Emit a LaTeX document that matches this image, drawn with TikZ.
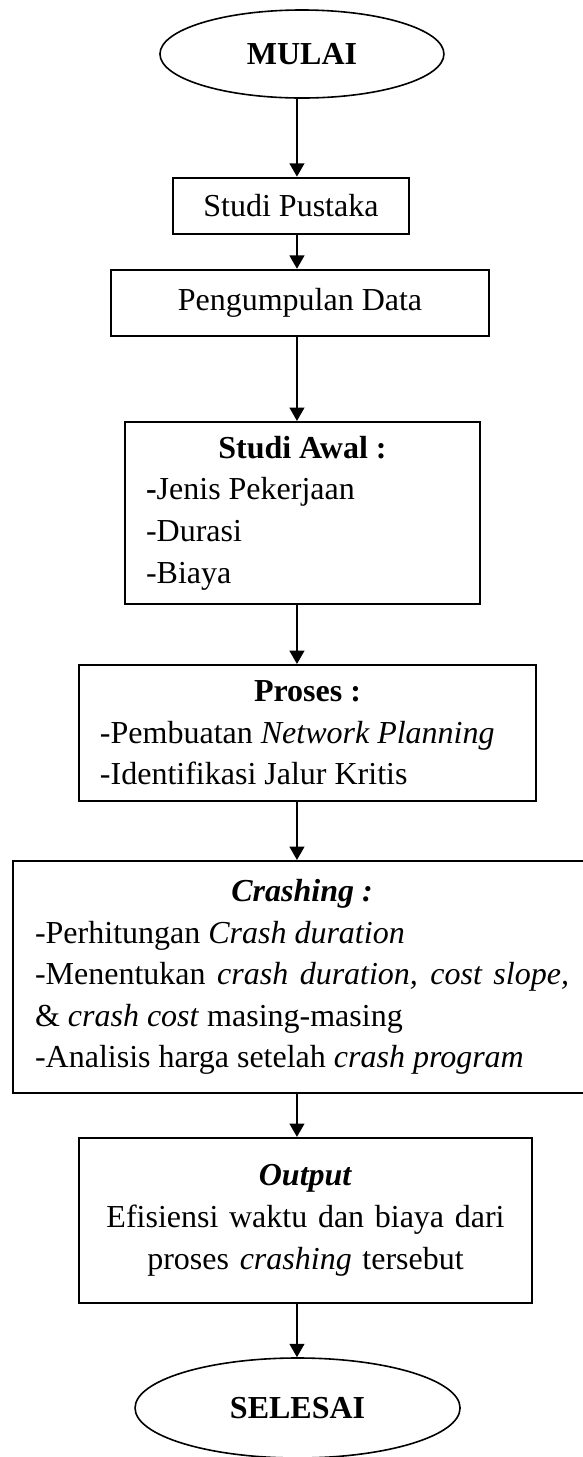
\documentclass[tikz,border=0pt]{standalone}
\usepackage{fontspec}
\setmainfont{Liberation Serif}
\usepackage{tikz}
\usetikzlibrary{shapes.geometric,arrows.meta}
\setlength{\parindent}{0pt}
\tikzstyle{terminal} = [ellipse, text centered, draw=black, line width=0.6pt, inner sep=0pt, font=\fontsize{12}{14}\selectfont\bfseries]
\tikzstyle{process} = [rectangle, text centered, draw=black, line width=0.8pt, font=\fontsize{12}{14}\selectfont]
\tikzstyle{listbox} = [rectangle, align=justify, draw=black, line width=0.8pt, inner ysep=0pt, font=\fontsize{12}{15.6}\selectfont]
\tikzstyle{arrow} = [line width=0.8pt,->,>={Triangle[width=5.5pt,length=5pt]}]

\begin{document}
\begin{tikzpicture}[node distance=1cm]

\useasboundingbox (0,0) rectangle (7.671,-19.204);
\coordinate (spine) at (3.914,0);

\node (mulai) [terminal, minimum width=3.743cm, minimum height=1.160cm] at (3.980,-0.712) {MULAI};

\node (pustaka) [process, below of=mulai, xshift=-0.145cm, yshift=-1.00cm, minimum width=3.110cm, minimum height=0.738cm] {Studi Pustaka};

\node (data) [process, below of=pustaka, xshift=0.119cm, yshift=-0.28cm, minimum width=4.982cm, minimum height=0.870cm] {Pengumpulan Data};

\node (awal) [listbox, below of=data, xshift=0.033cm, yshift=-1.77cm, text width=4.124cm, inner xsep=0.277cm, minimum height=2.399cm] {{\centering\textbf{Studi Awal :}\par}\textbf{-}Jenis Pekerjaan\par -Durasi\par -Biaya};

\node (proses) [listbox, below of=awal, xshift=0.066cm, yshift=-1.90cm, text width=5.47cm, inner xsep=0.277cm, minimum height=1.792cm] {{\centering\textbf{Proses :}\par}-Pembuatan \textit{Network Planning}\par -Identifikasi Jalur Kritis};

\node (crashing) [listbox, below of=proses, xshift=-0.072cm, yshift=-2.216cm, text width=7.038cm, inner xsep=0.29cm, minimum height=3.058cm] {{\centering\textbf{\textit{Crashing :}}\par}-Perhitungan \textit{Crash duration}\par -Menentukan \textit{crash duration, cost slope,}\linebreak \& \textit{crash cost} masing-masing\par -Analisis harga setelah \textit{crash program}};

\node (output) [process, below of=crashing, xshift=0.046cm, yshift=-2.209cm, align=center, text width=5.4cm, minimum width=5.971cm, minimum height=2.176cm, font=\fontsize{12}{15.8}\selectfont] {\textbf{\textit{Output}}\\ Efisiensi waktu dan biaya dari\\ proses \textit{crashing} tersebut};

\node (selesai) [terminal, below of=output, xshift=-0.105cm, yshift=-1.471cm, minimum width=4.284cm, minimum height=1.318cm] {SELESAI};

\draw [arrow] (mulai.south -| spine) -- (pustaka.north -| spine);
\draw [arrow] (pustaka.south -| spine) -- (data.north -| spine);
\draw [arrow] (data.south -| spine) -- (awal.north -| spine);
\draw [arrow] (awal.south -| spine) -- (proses.north -| spine);
\draw [arrow] (proses.south -| spine) -- (crashing.north -| spine);
\draw [arrow] (crashing.south -| spine) -- (output.north -| spine);
\draw [arrow] (output.south -| spine) -- (selesai.north -| spine);

\end{tikzpicture}
\end{document}
